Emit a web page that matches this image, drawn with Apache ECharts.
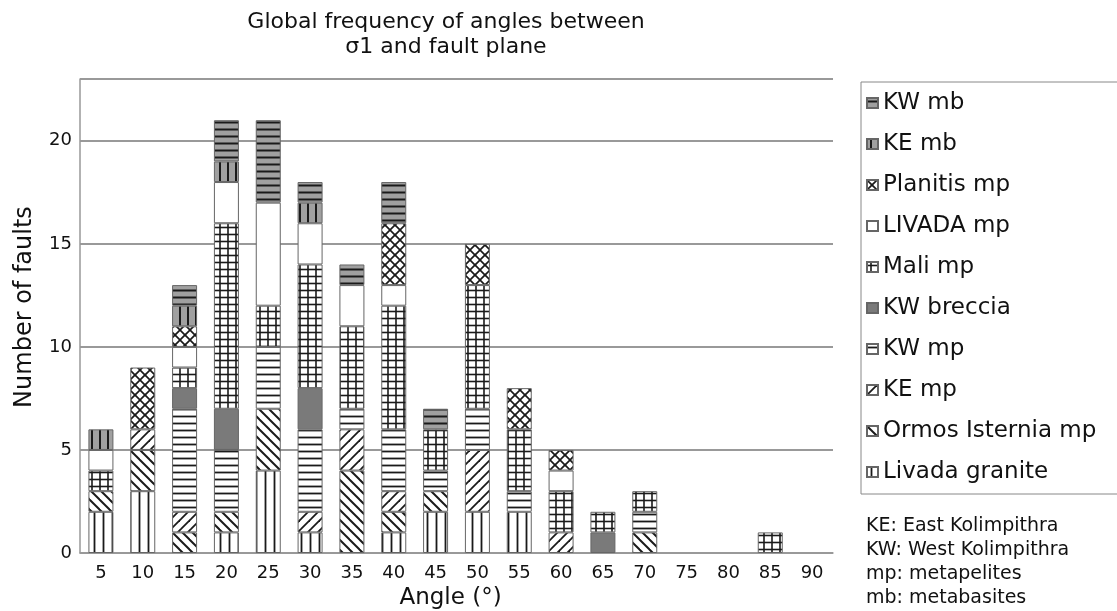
<!DOCTYPE html>
<html>
<head>
<meta charset="utf-8">
<script src="https://cdn.jsdelivr.net/npm/echarts@6/dist/echarts.min.js"></script>
<style>
html,body{margin:0;padding:0;background:#fff;}
#chart{width:1117px;height:611px;}
</style>
</head>
<body>
<div id="chart"></div>
<script>
// ---- Data ----
const angles = ['5','10','15','20','25','30','35','40','45','50','55','60','65','70','75','80','85','90'];
const livadaGranite = [2,3,0,1,4,1,0,1,2,2,2,0,0,0,0,0,0,0];
const ormosIsterniaMp = [1,2,1,1,3,0,4,1,1,0,0,0,0,1,0,0,0,0];
const keMp = [0,1,1,0,0,1,2,1,0,3,0,1,0,0,0,0,0,0];
const kwMp = [0,0,5,3,3,4,1,3,1,2,1,0,0,1,0,0,0,0];
const kwBreccia = [0,0,1,2,0,2,0,0,0,0,0,0,1,0,0,0,0,0];
const maliMp = [1,0,1,9,2,6,4,6,2,6,3,2,1,1,0,0,1,0];
const livadaMp = [1,0,1,2,5,2,2,1,0,0,0,1,0,0,0,0,0,0];
const planitisMp = [0,3,1,0,0,0,0,3,0,2,2,1,0,0,0,0,0,0];
const keMb = [1,0,1,1,0,1,0,0,0,0,0,0,0,0,0,0,0,0];
const kwMb = [0,0,1,2,4,1,1,2,1,0,0,0,0,0,0,0,0,0];
const yTicks = [0,5,10,15,20];
const notes = ['KE: East Kolimpithra','KW: West Kolimpithra','mp: metapelites','mb: metabasites'];

// ---- Patterns ----
function makeTile(w, h, bg, draw) {
  const c = document.createElement('canvas');
  c.width = w; c.height = h;
  const ctx = c.getContext('2d');
  ctx.fillStyle = bg; ctx.fillRect(0, 0, w, h);
  ctx.strokeStyle = '#1a1a1a';
  ctx.lineCap = 'square';
  draw(ctx, w, h);
  return { image: c, repeat: 'repeat' };
}
function line(ctx, x1, y1, x2, y2, lw) {
  ctx.lineWidth = lw; ctx.beginPath(); ctx.moveTo(x1, y1); ctx.lineTo(x2, y2); ctx.stroke();
}
const pat = {
  vlines: makeTile(9, 9, '#fff', (c, w, h) => line(c, 4.5, 0, 4.5, h, 1.8)),
  back: makeTile(10, 10, '#fff', (c, w, h) => { c.lineCap='butt'; line(c, -2, -2, 12, 12, 2); line(c, -12, -2, 2, 12, 2); line(c, 8, -2, 22, 12, 2); }),
  slash: makeTile(10, 10, '#fff', (c, w, h) => { c.lineCap='butt'; line(c, -2, 12, 12, -2, 1.8); line(c, -12, 12, 2, -2, 1.8); line(c, 8, 12, 22, -2, 1.8); }),
  hlines: makeTile(8, 7, '#fff', (c, w, h) => line(c, 0, 3.5, w, 3.5, 1.8)),
  solid: '#7a7a7a',
  grid: makeTile(8, 7, '#fff', (c, w, h) => { line(c, 0, 3.5, w, 3.5, 1.6); line(c, 4, 0, 4, h, 1.6); }),
  white: '#ffffff',
  cross: makeTile(10, 10, '#fff', (c, w, h) => { c.lineCap='butt'; line(c, -1, -1, 11, 11, 1.7); line(c, -1, 11, 11, -1, 1.7); }),
  grayV: makeTile(8, 8, '#a0a0a0', (c, w, h) => line(c, 4, 0, 4, h, 2)),
  grayH: makeTile(8, 7, '#a0a0a0', (c, w, h) => line(c, 0, 3.5, w, 3.5, 2))
};

const seriesDefs = [
  ['Livada granite', livadaGranite, pat.vlines],
  ['Ormos Isternia mp', ormosIsterniaMp, pat.back],
  ['KE mp', keMp, pat.slash],
  ['KW mp', kwMp, pat.hlines],
  ['KW breccia', kwBreccia, pat.solid],
  ['Mali mp', maliMp, pat.grid],
  ['LIVADA mp', livadaMp, pat.white],
  ['Planitis mp', planitisMp, pat.cross],
  ['KE mb', keMb, pat.grayV],
  ['KW mb', kwMb, pat.grayH]
];

const FONT = 'DejaVu Sans';
const chart = echarts.init(document.getElementById('chart'), null, { renderer: 'canvas' });
chart.setOption({
  animation: false,
  backgroundColor: '#fff',
  textStyle: { fontFamily: FONT, color: '#111' },
  title: {
    text: 'Global frequency of angles between\nσ1 and fault plane',
    left: 441, top: 5, textAlign: 'center',
    textStyle: { fontFamily: FONT, fontSize: 22, fontWeight: 'normal', lineHeight: 25, color: '#111' }
  },
  legend: {
    orient: 'vertical',
    left: 861, top: 82,
    padding: [9, 80, 10, 5],
    itemGap: 17,
    itemWidth: 11, itemHeight: 10,
    icon: 'rect',
    borderColor: '#888', borderWidth: 1,
    data: seriesDefs.map(d => d[0]).reverse(),
    textStyle: { fontFamily: FONT, fontSize: 23, lineHeight: 24, color: '#111', padding: [0, 0, 0, 0] }
  },
  grid: { left: 80, right: 284, top: 79, bottom: 58, show: false, containLabel: false, outerBoundsMode: 'none' },
  xAxis: {
    type: 'category',
    data: angles,
    name: 'Angle (°)',
    nameLocation: 'middle',
    nameGap: 34,
    nameTextStyle: { fontFamily: FONT, fontSize: 23, color: '#111', padding: [0, 12, 0, 0] },
    axisTick: { show: false },
    axisLine: { lineStyle: { color: '#999', width: 1.5 } },
    axisLabel: { fontFamily: FONT, fontSize: 18, color: '#111', margin: 11, interval: 0 }
  },
  yAxis: {
    type: 'value',
    min: 0, max: 23, interval: 5,
    name: 'Number of faults',
    nameLocation: 'middle',
    nameGap: 43,
    nameTextStyle: { fontFamily: FONT, fontSize: 24, color: '#111', padding: [0, 0, 0, 18] },
    axisLine: { show: true, lineStyle: { color: '#999', width: 1.5 } },
    axisTick: { show: false },
    axisLabel: { fontFamily: FONT, fontSize: 18, color: '#111', margin: 8, showMaxLabel: false,
      formatter: v => (yTicks.indexOf(v) >= 0 ? String(v) : '') },
    splitLine: { show: true, lineStyle: { color: '#777', width: 1.5 } }
  },
  graphic: notes.map((t, i) => ({
    type: 'text', left: 866, top: 517 + i * 24,
    style: { text: t, fontFamily: FONT, fontSize: 19, fill: '#111' }
  })),
  series: seriesDefs.map(d => ({
    name: d[0],
    type: 'bar',
    stack: 'total',
    barWidth: 25,
    data: d[1].map(v => v === 0 ? null : v),
    itemStyle: { color: d[2], borderColor: '#666', borderWidth: 1 }
  }))
});
</script>
</body>
</html>
